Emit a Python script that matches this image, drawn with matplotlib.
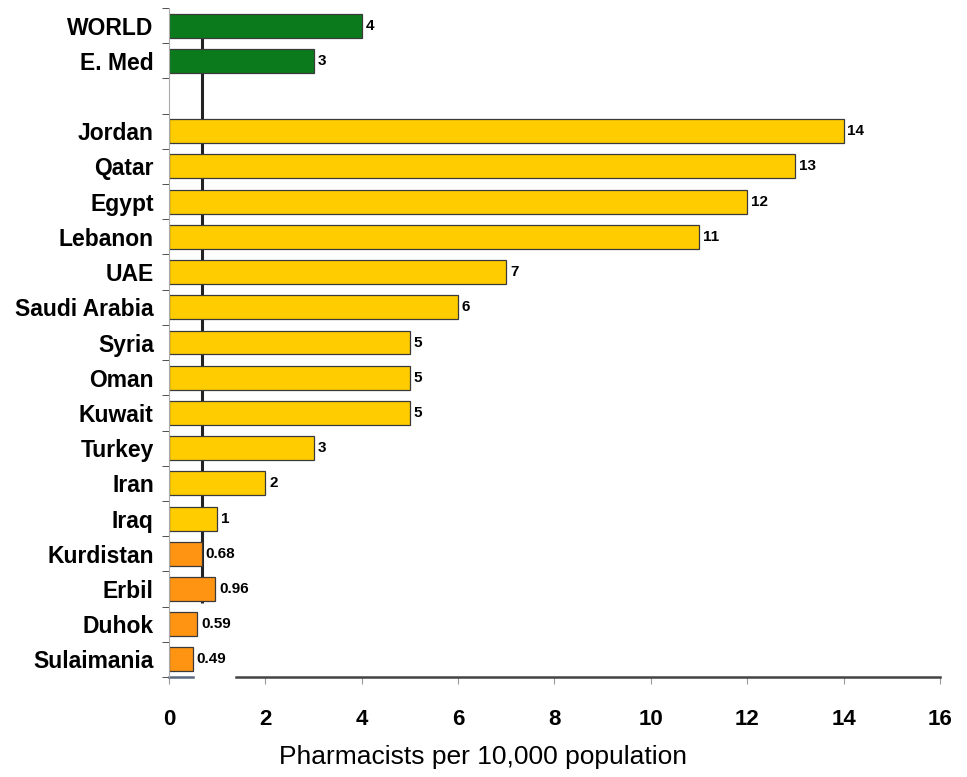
import matplotlib
matplotlib.use("Agg")
import matplotlib.pyplot as plt
import numpy as np

# rows from top to bottom; "" is the spacer row
labels = ["WORLD", "E. Med", "", "Jordan", "Qatar", "Egypt", "Lebanon", "UAE",
          "Saudi Arabia", "Syria", "Oman", "Kuwait", "Turkey", "Iran", "Iraq",
          "Kurdistan", "Erbil", "Duhok", "Sulaimania"]
values = [4, 3, None, 14, 13, 12, 11, 7, 6, 5, 5, 5, 3, 2, 1, 0.68, 0.96, 0.59, 0.49]
value_text = ["4", "3", "", "14", "13", "12", "11", "7", "6", "5", "5", "5", "3",
              "2", "1", "0.68", "0.96", "0.59", "0.49"]
groups = ["ref", "ref", "", "c", "c", "c", "c", "c", "c", "c", "c", "c", "c",
          "c", "c", "k", "k", "k", "k"]
kurdistan_ref = 0.68

colors = {"ref": "#0a7a1c", "c": "#ffcc00", "k": "#ff9412"}
fams = ["Liberation Sans Narrow", "Liberation Sans", "DejaVu Sans"]

fig = plt.figure(figsize=(9.67, 7.77), dpi=100)
ax = fig.add_axes([0.1748, 0.1287, 0.7972, 0.861])

n = len(labels)
ypos = np.arange(n)

# reference line for Kurdistan, behind the bars
ax.vlines(kurdistan_ref, 0, labels.index("Erbil") + 0.4, color="#222222",
          lw=2.2, zorder=1)

for y, v, g, t in zip(ypos, values, groups, value_text):
    if v is None:
        continue
    ax.barh(y, v, height=0.68, color=colors[g], edgecolor="#3a3a3a",
            linewidth=0.9, zorder=2)
    ax.text(v + 0.08, y, t, va="center", ha="left", fontsize=11,
            fontweight="bold", family=fams, zorder=3)

ax.set_ylim(n - 0.5, -0.5)
ax.set_xlim(0, 16)
ax.set_yticks(ypos)
ax.set_yticklabels(labels, fontsize=16.5, fontweight="bold", family=fams)
ax.tick_params(axis="y", length=0, pad=11)
# small ticks on the category boundaries
ax.set_yticks(np.arange(-0.5, n, 1), minor=True)
ax.tick_params(axis="y", which="minor", length=5, direction="out", color="#333333")

ax.set_xticks(np.arange(0, 17, 2))
ax.set_xticklabels([str(x) for x in range(0, 17, 2)], fontsize=16,
                   fontweight="bold", family=fams)
ax.tick_params(axis="x", length=5, color="#999999", pad=18)
ax.set_xlabel("Pharmacists per 10,000 population", fontsize=19,
              family=["Liberation Sans", "DejaVu Sans"])
ax.xaxis.set_label_coords(0.407, -0.102)

for s in ["top", "right", "bottom"]:
    ax.spines[s].set_visible(False)
ax.spines["left"].set_color("#aaaaaa")

# baseline drawn in two pieces, with a break just right of the short bars
tr = ax.get_xaxis_transform()
ax.plot([0, 0.5], [0, 0], transform=tr, color="#5a6a80", lw=1.8, clip_on=False)
ax.plot([1.39, 16], [0, 0], transform=tr, color="#444444", lw=1.8, clip_on=False)

fig.savefig("out.png", dpi=100)
